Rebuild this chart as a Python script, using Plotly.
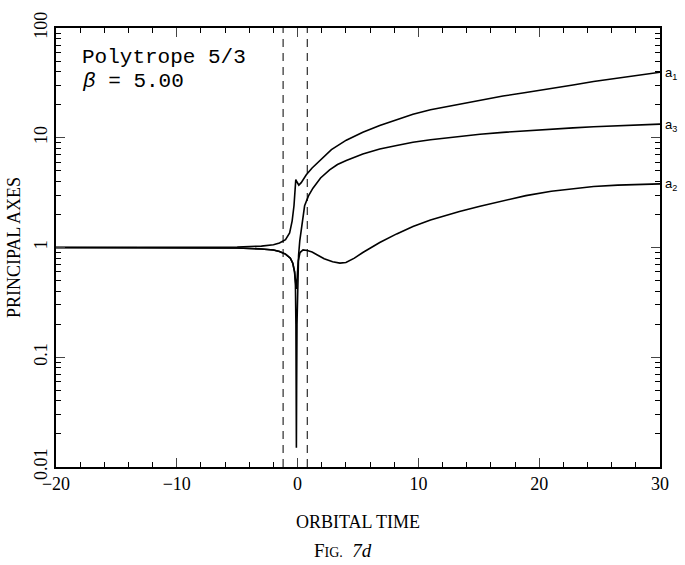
import math
import plotly.graph_objects as go

# ---- data ----
t_a1 = [-20, -10, -5, -3, -2, -1.5, -1.0, -0.66, -0.45, -0.3, -0.2, -0.15, -0.05, 0.1, 0.3, 0.72, 1.2, 1.82, 2.8, 4.03, 5.4, 6.8, 8.2, 9.55, 11, 12.3, 13.4, 15.1, 17, 18.9, 21, 22.8, 24.5, 26.5, 28, 30]
a1 = [1.0, 1.0, 1.01, 1.03, 1.06, 1.1, 1.18, 1.36, 1.75, 2.4, 3.4, 4.15, 3.95, 3.7, 3.9, 4.6, 5.3, 6.2, 7.8, 9.5, 11.2, 12.9, 14.7, 16.4, 18.0, 19.2, 20.2, 22.0, 24.0, 25.8, 27.9, 30.2, 32.6, 35.0, 36.9, 39.5]

t_a2 = [-20, -10, -5, -3, -2, -1.5, -1.0, -0.6, -0.4, -0.25, -0.15, -0.1, -0.05, 0.05, 0.2, 0.45, 0.8, 1.2, 1.6, 2.2, 2.9, 3.5, 4.0, 4.7, 5.4, 6.8, 8.2, 9.55, 11, 12.3, 13.4, 15.1, 17, 18.9, 21, 22.8, 24.5, 26.5, 28, 30]
a2 = [1.0, 1.0, 0.99, 0.97, 0.95, 0.92, 0.87, 0.80, 0.72, 0.6, 0.48, 0.42, 0.5, 0.75, 0.9, 0.95, 0.94, 0.91, 0.86, 0.79, 0.74, 0.72, 0.73, 0.8, 0.9, 1.11, 1.33, 1.55, 1.78, 1.97, 2.13, 2.38, 2.68, 2.97, 3.25, 3.45, 3.6, 3.7, 3.75, 3.8]

t_a3 = [-20, -10, -5, -3, -2, -1.5, -1.0, -0.6, -0.4, -0.25, -0.18, -0.14, -0.12, -0.1, -0.08, -0.05, 0.0, 0.08, 0.18, 0.35, 0.58, 0.9, 1.27, 1.9, 2.65, 3.3, 4.03, 5.4, 6.8, 8.2, 9.55, 11, 12.3, 13.4, 15.1, 17, 18.9, 21, 22.8, 24.5, 26.5, 28, 30]
a3 = [1.0, 1.0, 0.99, 0.97, 0.95, 0.92, 0.87, 0.80, 0.72, 0.6, 0.45, 0.2, 0.06, 0.015, 0.05, 0.2, 0.5, 0.85, 1.15, 1.6, 2.4, 2.95, 3.47, 4.3, 5.1, 5.7, 6.2, 7.1, 7.9, 8.5, 9.1, 9.6, 10.0, 10.3, 10.75, 11.2, 11.6, 12.0, 12.3, 12.6, 12.9, 13.05, 13.3]

dash_times = [-1.2, 0.8]
curve_labels = ["a<sub>1</sub>", "a<sub>3</sub>", "a<sub>2</sub>"]
inset_lines = ["Polytrope 5/3", "<i>β</i> = 5.00"]

fig = go.Figure()
for t, a in [(t_a1, a1), (t_a2, a2), (t_a3, a3)]:
    fig.add_trace(go.Scatter(x=t, y=a, mode="lines",
                             line=dict(color="black", width=1.6),
                             showlegend=False, hoverinfo="skip"))

for xd in dash_times:
    fig.add_shape(type="line", xref="x", yref="paper", x0=xd, x1=xd, y0=0, y1=1,
                  line=dict(color="black", width=1, dash="8px,6px"))

# right-side curve labels
for lab, a in [(curve_labels[0], a1), (curve_labels[1], a3), (curve_labels[2], a2)]:
    fig.add_annotation(x=1.0, xref="paper", y=math.log10(a[-1]), yref="y",
                       text=lab, showarrow=False, xanchor="left", xshift=3, yshift=-1,
                       font=dict(family="Liberation Sans", size=13, color="black"))

for txt, yp in zip(inset_lines, [0.932, 0.878]):
    fig.add_annotation(x=0.04, y=yp, xref="paper", yref="paper", xanchor="left", yanchor="middle",
                       text=txt, showarrow=False, align="left",
                       font=dict(family="Liberation Mono", size=21, color="black"))

fig.add_annotation(x=0.475, y=-0.19, xref="paper", yref="paper", showarrow=False, yanchor="middle",
                   text="F<span style='font-size:14px'>IG.</span>  <i>7d</i>",
                   font=dict(family="Liberation Serif", size=19, color="black"))

fig.update_layout(
    width=685, height=565,
    margin=dict(l=56, r=25, t=23, b=98),
    plot_bgcolor="white", paper_bgcolor="white",
    font=dict(family="Liberation Serif", color="black"),
    xaxis=dict(range=[-20, 30], dtick=10, tick0=0, ticks="inside", ticklen=9, tickwidth=1.2,
               showline=True, linecolor="black", linewidth=1.5, mirror="ticks",
               showgrid=False, zeroline=False, tickfont=dict(size=18),
               minor=dict(dtick=2, ticks="inside", ticklen=5, tickcolor="black"),
               title=dict(text="ORBITAL TIME", font=dict(size=18), standoff=22)),
    yaxis=dict(type="log", range=[-2, 2], dtick=1, ticks="inside", ticklen=9, tickwidth=1.2,
               showline=True, linecolor="black", linewidth=1.5, mirror="ticks",
               showgrid=False, zeroline=False, tickfont=dict(size=18), tickangle=-90,
               tickvals=[0.01, 0.1, 1, 10, 100], ticktext=["0.01", "0.1", "1", "10", "100"],
               minor=dict(dtick="D1", ticks="inside", ticklen=5, tickcolor="black"),
               title=dict(text="PRINCIPAL AXES", font=dict(size=18), standoff=6)),
)

fig.write_html("out.html")
